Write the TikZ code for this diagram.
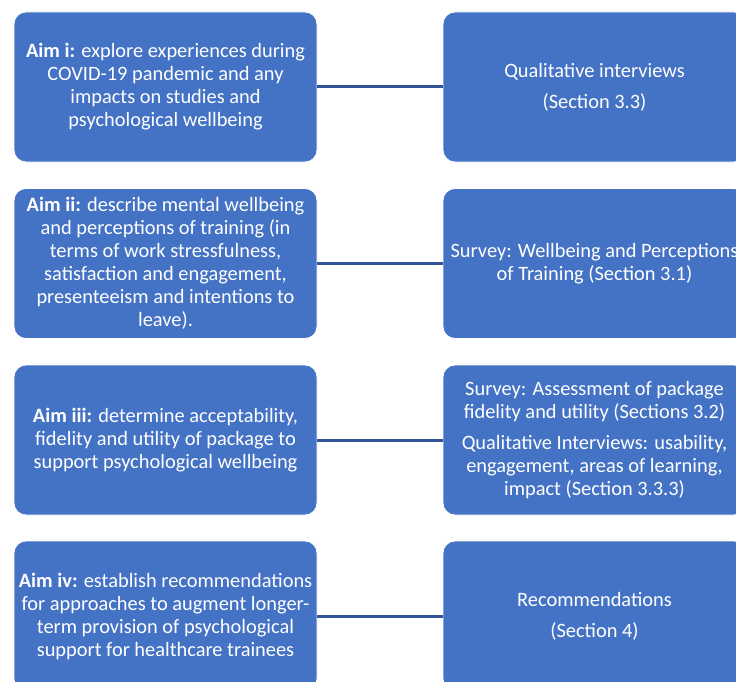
\documentclass[tikz,border=0pt]{standalone}
\usepackage{fontspec}
\setmainfont{Carlito}
\definecolor{boxblue}{HTML}{4472C4}
\definecolor{linkblue}{HTML}{2F5597}

\begin{document}
\begin{tikzpicture}[
  x=1pt, y=-1pt,
  aim_box/.style={rectangle, rounded corners=12pt, minimum width=303pt, minimum height=150pt, inner sep=0pt, fill=boxblue, draw=white, line width=0.8pt, text=white, align=center, font=\fontsize{20.4}{23}\selectfont},
  method_box/.style={aim_box},
  link_line/.style={draw=linkblue, line width=3pt},
]
\useasboundingbox (0,0) rectangle (736,682);
\clip (0,0) rectangle (736,682);
\draw (165.5,87) node (aim1) [aim_box] {\textbf{Aim i:} explore experiences during\\COVID-19 pandemic and any\\impacts on studies and\\psychological wellbeing};
\draw (165.5,263.5) node (aim2) [aim_box] {\textbf{Aim ii:} describe mental wellbeing\\and perceptions of training (in\\terms of work stressfulness,\\satisfaction and engagement,\\presenteeism and intentions to\\leave).};
\draw (165.5,440) node (aim3) [aim_box] {\textbf{Aim iii:} determine acceptability,\\fidelity and utility of package to\\support psychological wellbeing};
\draw (165.5,616) node (aim4) [aim_box] {\textbf{Aim iv:} establish recommendations\\for approaches to augment longer-\\term provision of psychological\\support for healthcare trainees};
\draw (594.5,87) node (out1) [method_box] {Qualitative interviews\\[8pt](Section 3.3)};
\draw (594.5,263.5) node (out2) [method_box] {Survey: Wellbeing and Perceptions\\of Training (Section 3.1)};
\draw (594.5,440) node (out3) [method_box] {Survey: Assessment of package\\fidelity and utility (Sections 3.2)\\[8pt]Qualitative Interviews: usability,\\engagement, areas of learning,\\impact (Section 3.3.3)};
\draw (594.5,616) node (out4) [method_box] {Recommendations\\[8pt](Section 4)};
\draw [link_line] (aim1) -- (out1);
\draw [link_line] (aim2) -- (out2);
\draw [link_line] (aim3) -- (out3);
\draw [link_line] (aim4) -- (out4);
\end{tikzpicture}
\end{document}
